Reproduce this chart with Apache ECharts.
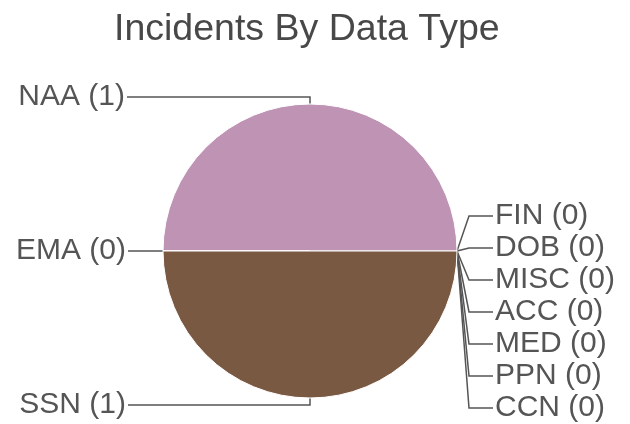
<!DOCTYPE html>
<html>
<head>
<meta charset="utf-8">
<script src="https://cdn.jsdelivr.net/npm/echarts@6/dist/echarts.min.js"></script>
<style>
html,body{margin:0;padding:0;background:#fff;}
#chart{width:630px;height:424px;}
</style>
</head>
<body>
<div id="chart"></div>
<script>
// slice order: zero slices first (at 3 o'clock), then counter-clockwise NAA, EMA, SSN
var names=['FIN','DOB','MISC','ACC','MED','PPN','CCN','NAA','EMA','SSN'];
var values=[0,0,0,0,0,0,0,1,0,1];
var colors=['#5b8fc9','#c9a25b','#8fc95b','#c95b5b','#5bc9b4','#a05bc9','#c9c95b','#be93b3','#888888','#7a5943'];

var chart=echarts.init(document.getElementById('chart'));
var data=[];
for(var i=0;i<names.length;i++){
    var item={name:names[i],value:values[i],itemStyle:{color:colors[i]}};
    if(values[i]==0&&names[i]!='EMA'){
        item.labelLine={length:12,length2:24};
    }
    data.push(item);
}
var option={
    animation:false,
    title:{
        text:'Incidents By Data Type',
        left:109,
        top:6,
        textStyle:{fontFamily:'Liberation Sans',fontSize:37.5,fontWeight:'normal',color:'#484848'}
    },
    series:[{
        type:'pie',
        center:[310,251],
        radius:147,
        startAngle:0,
        clockwise:false,
        avoidLabelOverlap:true,
        itemStyle:{borderColor:'#fff',borderWidth:1},
        label:{
            formatter:'{b} ({c})',
            fontFamily:'Liberation Sans',
            fontSize:30,
            lineHeight:29,
            color:'#555',
            alignTo:'labelLine',
            distanceToLabelLine:2
        },
        labelLine:{
            show:true,
            length:7,
            length2:28,
            lineStyle:{color:'#555',width:1.5}
        },
        // NAA sits exactly on the split line and lands on the right; mirror it to the left
        labelLayout:function(p){
            var pts=p.labelLinePoints;
            if(!pts||names[p.dataIndex]!='NAA') return {};
            var cx=p.rect.x+p.rect.width/2;
            if(pts[2][0]<=cx) return {};
            var np=pts.map(function(q){return [2*cx-q[0],q[1]];});
            return {
                x:np[2][0]-2,
                y:p.labelRect.y+p.labelRect.height/2,
                align:'right',
                verticalAlign:'middle',
                labelLinePoints:np
            };
        },
        emphasis:{disabled:true},
        data:data
    }]
};
chart.setOption(option);
</script>
</body>
</html>
